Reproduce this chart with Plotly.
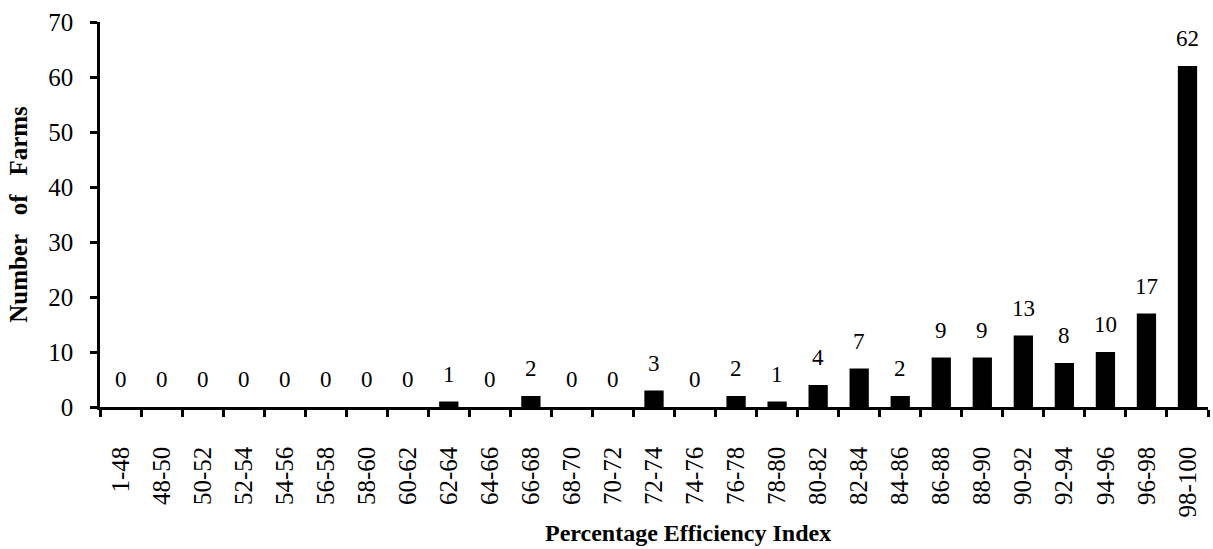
import plotly.graph_objects as go

categories = ["1-48", "48-50", "50-52", "52-54", "54-56", "56-58", "58-60", "60-62",
              "62-64", "64-66", "66-68", "68-70", "70-72", "72-74", "74-76", "76-78",
              "78-80", "80-82", "82-84", "84-86", "86-88", "88-90", "90-92", "92-94",
              "94-96", "96-98", "98-100"]
farms = [0, 0, 0, 0, 0, 0, 0, 0, 1, 0, 2, 0, 0, 3, 0, 2, 1, 4, 7, 2, 9, 9, 13, 8, 10, 17, 62]
y_ticks = [0, 10, 20, 30, 40, 50, 60, 70]

FONT = "Liberation Serif, Times New Roman, serif"

fig = go.Figure(go.Bar(
    x=categories, y=farms, width=0.47,
    marker=dict(color="black", line=dict(width=0)),
))

for c, v in zip(categories, farms):
    fig.add_annotation(x=c, y=v, text=str(v), showarrow=False,
                       yanchor="bottom", yshift=13,
                       font=dict(family=FONT, size=23, color="black"))

fig.add_annotation(xref="paper", yref="paper", x=0.531, y=-0.327,
                   xanchor="center", yanchor="middle", showarrow=False,
                   text="<b>Percentage Efficiency Index</b>",
                   font=dict(family=FONT, size=24, color="black"))

fig.update_layout(
    width=1213, height=549,
    margin=dict(l=100, r=5, t=22, b=142),
    paper_bgcolor="white", plot_bgcolor="white",
    font=dict(family=FONT, color="black"),
    showlegend=False,
)
fig.update_xaxes(
    type="category", range=[-0.5, len(categories) - 0.5],
    showline=True, linecolor="black", linewidth=2.5,
    ticks="outside", tickson="boundaries", ticklen=7, tickwidth=2.5, tickcolor="black",
    tickangle=-90, tickfont=dict(size=25, family=FONT), ticklabelstandoff=27,
    showgrid=False,
)
fig.update_yaxes(
    range=[0, 70], tickvals=y_ticks,
    showline=True, linecolor="black", linewidth=2.5,
    ticks="outside", ticklen=7, tickwidth=2.5, tickcolor="black",
    tickfont=dict(size=25, family=FONT), ticklabelstandoff=12,
    showgrid=False, zeroline=False,
    title=dict(text="<b>Number&nbsp;&nbsp;&nbsp;of&nbsp;&nbsp;&nbsp;Farms</b>",
               font=dict(size=25, family=FONT), standoff=14),
)

fig.write_html("out.html")
